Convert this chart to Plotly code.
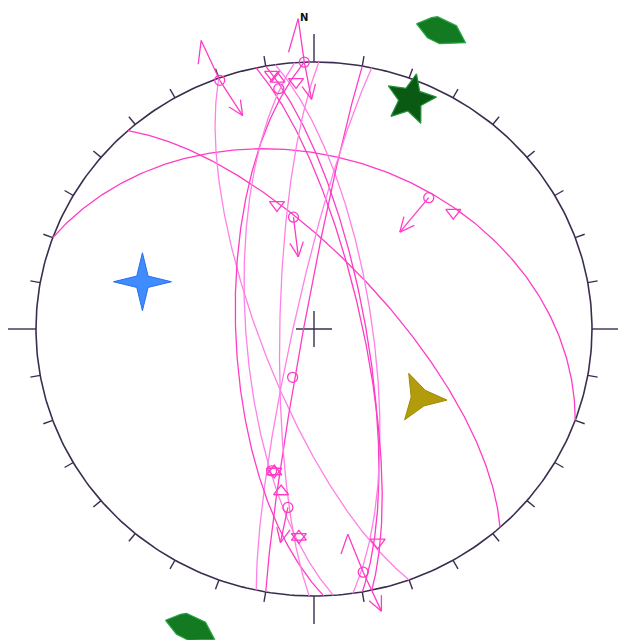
import numpy as np
import plotly.graph_objects as go

# ---- data -------------------------------------------------------------
# Fault planes drawn as great circles (strike by right-hand rule, dip)
plane_strike = [290, 318, 160, 350, 352, 348, 190, 192, 178, 176, 181]
plane_dip = [36, 69, 74, 75, 73, 76, 87, 84, 67, 70, 80]
plane_tone = ["deep", "deep", "soft", "deep", "soft", "deep", "deep", "soft", "deep", "soft", "soft"]

# Slip-vector poles (open circles): trend, plunge
circle_trend = [340, 358, 352, 350, 40, 169, 188, 196, 203]
circle_plunge = [1, 0, 10, 55, 36, 8, 33, 44, 74]

# Null / B-axes (open down triangles): trend, plunge
tri_trend = [344, 49, 164, 184, 195, 351, 356]
tri_plunge = [50, 34, 18, 23, 44, 4, 8]
# Overlapping up triangles forming star clusters
utri_trend = [184, 195, 191, 352]
utri_plunge = [23, 44, 38, 6]

# Slip arrows: anchor trend, plunge, screen azimuth (deg), length (px)
arrow_trend = [350, 40, 340, 358, 169, 188]
arrow_plunge = [55, 36, 1, 0, 8, 33]
arrow_azim = [173, 220, 147, 169, 155, 192]
arrow_len = [40, 45, 42, 38, 43, 36]

# Arrow tails (two-segment zigzags): anchor, first az/len, second az/len
tail_trend = [340, 358, 169]
tail_plunge = [1, 0, 8]
tail_az1 = [335, 352, 338]
tail_len1 = [44, 44, 41]
tail_az2 = [187, 196, 199]
tail_len2 = [24, 35, 21]

# Principal axes: P (blue), T (olive), B (green, near horizontal)
p_axis = (286, 36)
t_axis = (124, 52)
b_axis = (22, 8)
b_axis_outer_r = 1.205  # outside markers showing the horizontal axis trend

# ---- geometry ---------------------------------------------------------
SX, SY = 278.0, 267.0  # pixels per unit radius (x, y)


def project(trend, plunge):
    t = np.radians(np.asarray(trend, float))
    p = np.radians(np.asarray(plunge, float))
    r = np.sqrt(2) * np.sin((np.pi / 2 - p) / 2)
    return r * np.sin(t), r * np.cos(t)


def great_circle(strike, dip, n=241):
    s, d = np.radians(strike), np.radians(dip)
    lam = np.linspace(0, np.pi, n)
    S = np.array([np.sin(s), np.cos(s), 0.0])
    dd = s + np.pi / 2
    D = np.array([np.cos(d) * np.sin(dd), np.cos(d) * np.cos(dd), -np.sin(d)])
    L = np.outer(np.cos(lam), S) + np.outer(np.sin(lam), D)
    plunge = np.degrees(np.arcsin(np.clip(-L[:, 2], -1, 1)))
    trend = np.degrees(np.arctan2(L[:, 0], L[:, 1]))
    return project(trend, plunge)


def offset(x, y, az, length):
    a = np.radians(az)
    return x + length * np.sin(a) / SX, y + length * np.cos(a) / SY


PINK = {"deep": "#ff3cc4", "soft": "#ff80e6"}
FRAME = "#3b2d4f"

fig = go.Figure()

# primitive circle
az = np.radians(np.arange(0, 361))
fig.add_trace(go.Scatter(x=np.sin(az), y=np.cos(az), mode="lines",
                         line=dict(color=FRAME, width=1.6), hoverinfo="skip"))

# ticks every 10 degrees, longer at cardinal points
tx, ty = [], []
for a in range(0, 360, 10):
    ln = 28 if a % 90 == 0 else 10
    x0, y0 = np.sin(np.radians(a)), np.cos(np.radians(a))
    x1, y1 = offset(x0, y0, a, ln)
    tx += [x0, x1, None]
    ty += [y0, y1, None]
# centre cross
for a in (0, 90):
    xa, ya = offset(0, 0, a, 18)
    xb, yb = offset(0, 0, a + 180, 18)
    tx += [xa, xb, None]
    ty += [ya, yb, None]
fig.add_trace(go.Scatter(x=tx, y=ty, mode="lines",
                         line=dict(color=FRAME, width=1.4), hoverinfo="skip"))

# great circles
for s, d, tone in zip(plane_strike, plane_dip, plane_tone):
    gx, gy = great_circle(s, d)
    fig.add_trace(go.Scatter(x=gx, y=gy, mode="lines",
                             line=dict(color=PINK[tone], width=1.3), hoverinfo="skip"))

# slip arrows with open heads
ax_, ay_ = [], []
for t, p, a, ln in zip(arrow_trend, arrow_plunge, arrow_azim, arrow_len):
    x0, y0 = project(t, p)
    x1, y1 = offset(x0, y0, a, ln)
    ax_ += [x0, x1, None]
    ay_ += [y0, y1, None]
    for b in (155, -155):
        xb, yb = offset(x1, y1, a + b, 16)
        ax_ += [x1, xb, None]
        ay_ += [y1, yb, None]
for t, p, a1, l1, a2, l2 in zip(tail_trend, tail_plunge, tail_az1, tail_len1, tail_az2, tail_len2):
    x0, y0 = project(t, p)
    x1, y1 = offset(x0, y0, a1, l1)
    x2, y2 = offset(x1, y1, a2, l2)
    ax_ += [x0, x1, x2, None]
    ay_ += [y0, y1, y2, None]
fig.add_trace(go.Scatter(x=ax_, y=ay_, mode="lines",
                         line=dict(color=PINK["deep"], width=1.3), hoverinfo="skip"))

# open markers on the planes
MK = PINK["deep"]
cx, cy = project(circle_trend, circle_plunge)
fig.add_trace(go.Scatter(x=cx, y=cy, mode="markers", hoverinfo="skip",
                         marker=dict(symbol="circle-open", size=10, color=MK,
                                     line=dict(color=MK, width=1.3))))
vx, vy = project(tri_trend, tri_plunge)
fig.add_trace(go.Scatter(x=vx, y=vy, mode="markers", hoverinfo="skip",
                         marker=dict(symbol="triangle-down-open", size=13, color=MK,
                                     line=dict(color=MK, width=1.3))))
ux, uy = project(utri_trend, utri_plunge)
fig.add_trace(go.Scatter(x=ux, y=uy, mode="markers", hoverinfo="skip",
                         marker=dict(symbol="triangle-up-open", size=13, color=MK,
                                     line=dict(color=MK, width=1.3))))


def star(cx, cy, n, r_out, r_in, rot):
    xs, ys = [], []
    for k in range(2 * n + 1):
        r = r_out if k % 2 == 0 else r_in
        a = rot + k * 180.0 / n
        x, y = offset(cx, cy, a, r)
        xs.append(x)
        ys.append(y)
    return xs, ys


def polygon(cx, cy, pts):
    xs = [cx + px / SX for px, _ in pts] + [cx + pts[0][0] / SX]
    ys = [cy - py / SY for _, py in pts] + [cy - pts[0][1] / SY]
    return xs, ys


# P axis: four-point star
px_, py_ = project(*p_axis)
sx, sy = star(px_, py_, 4, 29, 8, 0)
fig.add_trace(go.Scatter(x=sx, y=sy, mode="lines", fill="toself", fillcolor="#3f8cff",
                         line=dict(color="#2a6fe8", width=1), hoverinfo="skip"))

# T axis: three-point star
tx_, ty_ = project(*t_axis)
sx, sy = star(tx_, ty_, 3, 27, 9, -25)
fig.add_trace(go.Scatter(x=sx, y=sy, mode="lines", fill="toself", fillcolor="#b29c0c",
                         line=dict(color="#a08a00", width=1), hoverinfo="skip"))

# B axis: five-point star
bx_, by_ = project(*b_axis)
sx, sy = star(bx_, by_, 5, 26, 12, 13)
fig.add_trace(go.Scatter(x=sx, y=sy, mode="lines", fill="toself", fillcolor="#0b5a14",
                         line=dict(color="#23913a", width=1.2), hoverinfo="skip"))

# horizontal-axis markers outside the net
house = [(-23, -7), (-8, -13), (-2, -14), (17, -5), (26, 12), (0, 13), (-12, 7)]
for a in (b_axis[0], b_axis[0] + 180):
    hx0 = b_axis_outer_r * np.sin(np.radians(a))
    hy0 = b_axis_outer_r * np.cos(np.radians(a))
    hx, hy = polygon(hx0, hy0, house)
    fig.add_trace(go.Scatter(x=hx, y=hy, mode="lines", fill="toself", fillcolor="#137a22",
                             line=dict(color="#27a845", width=1.2), hoverinfo="skip"))

fig.add_annotation(x=0, y=1.165, text="<b>N</b>", showarrow=False, xshift=-10,
                   font=dict(family="DejaVu Sans", size=10, color="#111111"))

fig.update_layout(
    width=618, height=640, margin=dict(l=0, r=0, t=0, b=0),
    paper_bgcolor="white", plot_bgcolor="white", showlegend=False,
    xaxis=dict(range=[-314 / SX, 304 / SX], visible=False, fixedrange=True),
    yaxis=dict(range=[-311 / SY, 329 / SY], visible=False, fixedrange=True),
)

fig.write_html("out.html")
